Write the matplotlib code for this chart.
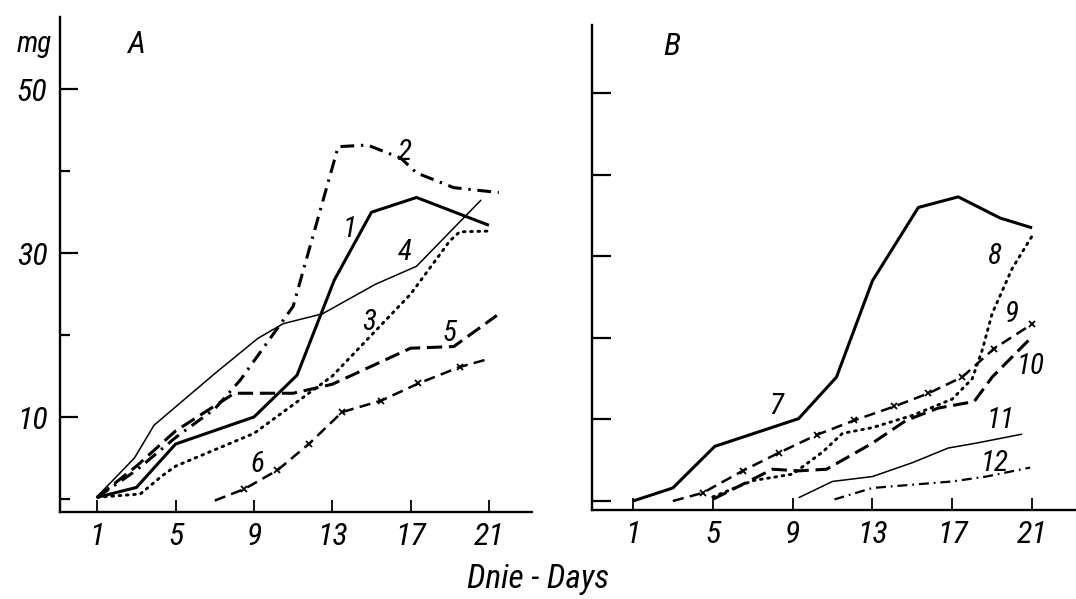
import matplotlib
matplotlib.use("Agg")
import matplotlib.pyplot as plt
from matplotlib import font_manager

# pick a narrow italic-looking family if one is there
names = {f.name for f in font_manager.fontManager.ttflist}
fam = 'DejaVu Sans'
for cand in ['Liberation Sans Narrow', 'Roboto Condensed', 'DejaVu Sans']:
    if cand in names:
        fam = cand
        break
plt.rcParams['font.family'] = [fam, 'DejaVu Sans']

# ---- panel A ----
d1 = [1, 3, 5, 9, 11.2, 13.1, 15, 17.3, 21]
v1 = [0.2, 1.4, 6.7, 10, 15.1, 26.7, 35, 36.8, 33.4]
d2 = [1, 3, 5, 7, 8.3, 11, 13.3, 14.8, 16.5, 17.3, 19.2, 21.5]
v2 = [0.2, 3.5, 7.5, 11, 14.5, 23.5, 43, 43.2, 41.6, 39.8, 38, 37.4]
d3 = [1, 3.2, 4.3, 5, 7, 9, 11, 13, 15, 17, 19, 19.5, 21]
v3 = [0.2, 0.6, 2.8, 4, 6, 8, 11.5, 15, 20, 25, 31.5, 32.6, 32.7]
d4 = [1, 2.9, 3.9, 7, 9.2, 10.5, 12.5, 15.2, 17.3, 20.6]
v4 = [0.3, 5, 9, 15.3, 19.6, 21.4, 22.6, 26.2, 28.4, 36.5]
d5 = [1, 3, 5, 8, 11, 13, 17, 19.2, 21.4]
v5 = [0.2, 4, 8.3, 12.9, 12.9, 14, 18.4, 18.6, 22.4]
d6 = [7, 8.5, 10.2, 11.8, 13.5, 15.5, 17.4, 19.5, 21]
v6 = [-0.2, 1.2, 3.5, 6.7, 10.6, 12, 14.1, 16.1, 17.1]

# ---- panel B ----
d7 = [1, 3, 5.1, 9.3, 11.2, 13, 15.3, 17.3, 19.4, 21]
v7 = [0, 1.6, 6.7, 10.1, 15.2, 27, 36, 37.3, 34.7, 33.5]
d8 = [5, 7, 9, 10.5, 11.5, 13, 15, 17, 18, 18.5, 19, 20, 21]
v8 = [0.5, 2.5, 3.3, 6, 8.3, 9, 10.5, 12.5, 15, 18.5, 23, 28.5, 32.5]
d9 = [3, 4.5, 6.5, 8.3, 10.2, 12.1, 14.1, 15.8, 17.5, 19.1, 21]
v9 = [0, 1, 3.7, 5.9, 8.1, 9.9, 11.6, 13.2, 15.2, 18.7, 21.7]
d10 = [5, 8, 9.3, 10.7, 13, 14.7, 16.3, 18.1, 19, 20.9]
v10 = [0.2, 3.9, 3.7, 3.9, 7.1, 9.9, 11.4, 12.2, 15.2, 19.9]
d11 = [9.3, 11, 13, 15, 16.8, 18.2, 20.5]
v11 = [0.4, 2.4, 3, 4.7, 6.5, 7.1, 8.2]
d12 = [11.1, 13, 17, 18.7, 20.9]
v12 = [0.2, 1.6, 2.4, 3, 4.1]

labels_a = ['1', '2', '3', '4', '5', '6']
lab_pos_a = [(13.9, 33), (16.7, 42.3), (14.9, 21.6), (16.7, 30.2), (19.0, 20.2), (9.2, 4.3)]
labels_b = ['7', '8', '9', '10', '11', '12']
lab_pos_b = [(8.2, 11.6), (19.1, 30), (20.0, 22.9), (20.9, 16.6), (19.4, 9.9), (19.1, 4.7)]

xticks = [1, 5, 9, 13, 17, 21]

thick = 2.2
thin = 1.1
dashdot = (0, (4.5, 2.2, 0.8, 2.2))
dashed = (0, (5, 2.2))
dotted = (0, (0.6, 1.9))
xdash = (0, (4.5, 2.5))

fig = plt.figure(figsize=(10.76, 5.99), dpi=100)
axA = fig.add_axes([0.0558, 0.1452, 0.4387, 0.826])
axB = fig.add_axes([0.550, 0.1486, 0.450, 0.81])

k = dict(color='black', solid_capstyle='butt', dash_capstyle='butt')
axA.plot(d1, v1, lw=thick, **k)
axA.plot(d2, v2, lw=thick, ls=dashdot, **k)
axA.plot(d3, v3, lw=2.1, ls=dotted, color='black', dash_capstyle='round')
axA.plot(d4, v4, lw=thin, **k)
axA.plot(d5, v5, lw=thick, ls=dashed, **k)
axA.plot(d6, v6, lw=1.8, ls=xdash, marker='x', ms=5, mew=1.3,
         markevery=list(range(1, len(d6) - 1)), **k)

axB.plot(d7, v7, lw=thick, **k)
axB.plot(d8, v8, lw=2.1, ls=dotted, color='black', dash_capstyle='round')
axB.plot(d9, v9, lw=1.8, ls=xdash, marker='x', ms=5, mew=1.3,
         markevery=list(range(1, len(d9))), **k)
axB.plot(d10, v10, lw=thick, ls=dashed, **k)
axB.plot(d11, v11, lw=thin, **k)
axB.plot(d12, v12, lw=1.6, ls=dashdot, **k)

tfont = dict(fontsize=21, style='italic')
for t, (x, y) in zip(labels_a, lab_pos_a):
    axA.text(x, y, t, ha='center', va='center', **tfont)
for t, (x, y) in zip(labels_b, lab_pos_b):
    axB.text(x, y, t, ha='center', va='center', **tfont)

axA.set_xlim(-0.9, 23.2)
axA.set_ylim(-1.6, 58.8)
axB.set_xlim(-1.06, 23.2)
axB.set_ylim(-1.1, 58.4)

for ax in (axA, axB):
    for s in ('top', 'right'):
        ax.spines[s].set_visible(False)
    for s in ('left', 'bottom'):
        ax.spines[s].set_linewidth(1.7)
    ax.set_xticks(xticks)
    ax.set_xticklabels([str(x) for x in xticks], fontsize=23, style='italic')
    ax.tick_params(axis='x', direction='in', length=9, width=1.3, pad=7)

# left panel: long ticks at 10/30/50, short ones between
axA.set_yticks([10, 30, 50])
axA.set_yticklabels(['10', '30', '50'], fontsize=23, style='italic')
axA.set_yticks([0, 20, 40], minor=True)
axA.tick_params(axis='y', which='major', direction='in', length=13, width=1.6, pad=9)
axA.tick_params(axis='y', which='minor', direction='in', length=7, width=1.6)

axB.set_yticks([0, 10, 20, 30, 40, 50])
axB.set_yticklabels([])
axB.tick_params(axis='y', direction='in', length=14, width=1.6)

axA.text(-0.055, 0.975, 'mg', transform=axA.transAxes, ha='center', va='top',
         fontsize=21, style='italic')
axA.text(0.16, 0.975, 'A', transform=axA.transAxes, ha='center', va='top',
         fontsize=23, style='italic')
axB.text(0.165, 0.985, 'B', transform=axB.transAxes, ha='center', va='top',
         fontsize=23, style='italic')
fig.text(0.50, 0.033, 'Dnie - Days', ha='center', va='center',
         fontsize=24, style='italic')

fig.savefig('out.png', dpi=100)
